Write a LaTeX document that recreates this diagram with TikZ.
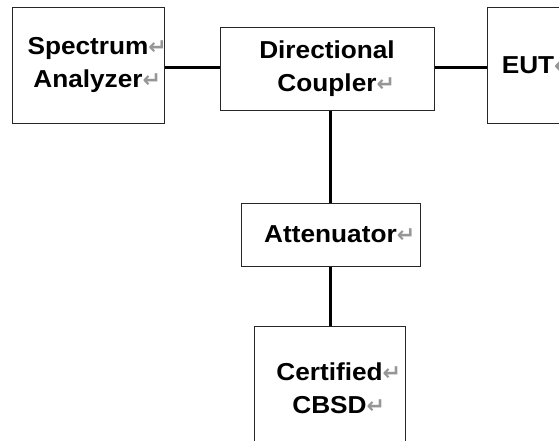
\documentclass[tikz,border=0pt]{standalone}
\usepackage{fontspec}
\setmainfont[FakeStretch=1.07]{Liberation Sans}
\newfontfamily\retfont{DejaVu Sans}
\definecolor{retgray}{RGB}{150,150,150}
\newcommand\ret{\rlap{\retfont\color{retgray}\fontsize{22}{22}\selectfont\char"21B5}}
\begin{document}
\begin{tikzpicture}[x=1pt,y=-1pt,
  blk/.style={draw=black!85, line width=1pt, fill=white, inner sep=0pt, align=center,
    font=\fontsize{24.5}{33}\selectfont\bfseries},
  wire/.style={line width=3pt, black}]
\useasboundingbox (0,0) rectangle (559,440);
\begin{scope}
\clip (0,0) rectangle (559,440);
\node[blk, minimum width=152pt, minimum height=116pt] (SA) at (88,65) {Spectrum\ret\\Analyzer\ret};
\node[blk, minimum width=214pt, minimum height=83pt] (DC) at (327,68.5) {Directional\\Coupler\ret};
\node[blk, minimum width=81pt, minimum height=116pt, anchor=west] (EUT) at (487,65) {EUT\ret};
\node[blk, minimum width=179pt, minimum height=63pt] (AT) at (330.5,234.5) {Attenuator\ret};
\node[blk, minimum width=151pt, minimum height=124pt, anchor=north] (CB) at (329.5,326) {Certified\ret\\CBSD\ret};
\coordinate (L) at (0,67);
\coordinate (V) at (330,0);
\draw[wire] (SA.east |- L) -- (DC.west |- L);
\draw[wire] (DC.east |- L) -- (EUT.west |- L);
\draw[wire] (V |- DC.south) -- (V |- AT.north);
\draw[wire] (V |- AT.south) -- (V |- CB.north);
\end{scope}
\end{tikzpicture}
\end{document}
